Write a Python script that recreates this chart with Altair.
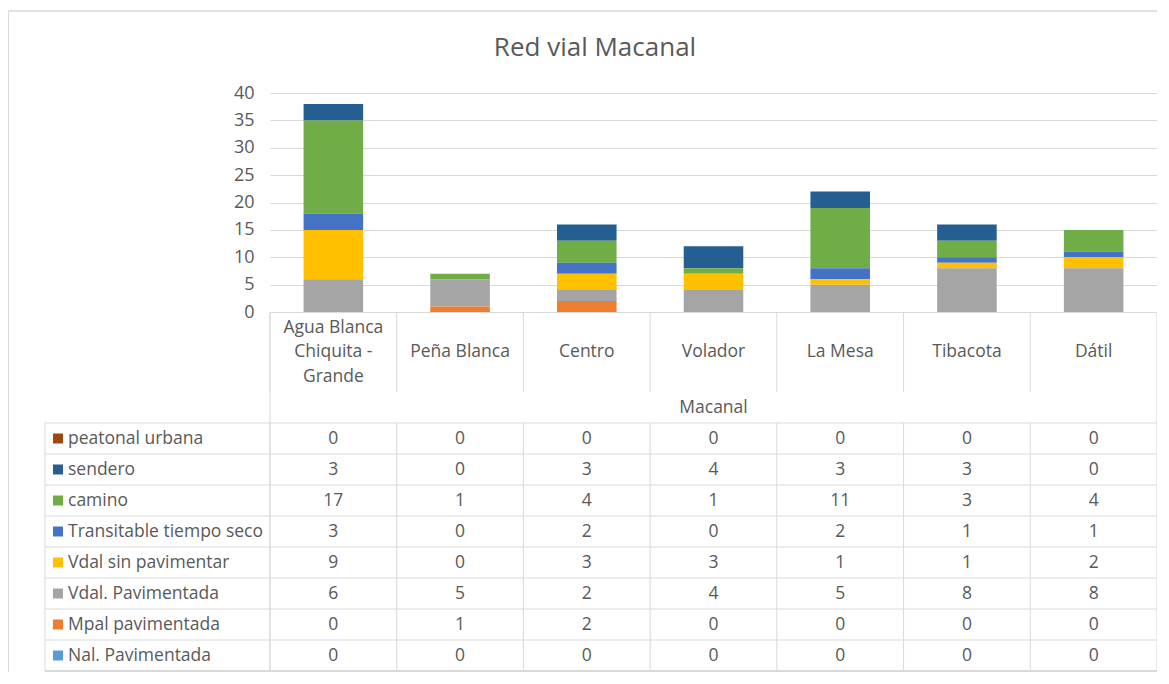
import altair as alt
import pandas as pd

categories = ["Agua Blanca Chiquita - Grande", "Peña Blanca", "Centro", "Volador", "La Mesa", "Tibacota", "Dátil"]
cat_labels = ["Agua Blanca\nChiquita -\nGrande", "Peña Blanca", "Centro", "Volador", "La Mesa", "Tibacota", "Dátil"]

# table order (top to bottom)
series = ["peatonal urbana", "sendero", "camino", "Transitable tiempo seco",
          "Vdal sin pavimentar", "Vdal. Pavimentada", "Mpal pavimentada", "Nal. Pavimentada"]
colors = ["#9E480E", "#255E91", "#70AD47", "#4472C4", "#FFC000", "#A5A5A5", "#ED7D31", "#5B9BD5"]

peatonal_urbana = [0, 0, 0, 0, 0, 0, 0]
sendero = [3, 0, 3, 4, 3, 3, 0]
camino = [17, 1, 4, 1, 11, 3, 4]
transitable = [3, 0, 2, 0, 2, 1, 1]
vdal_sin = [9, 0, 3, 3, 1, 1, 2]
vdal_pav = [6, 5, 2, 4, 5, 8, 8]
mpal_pav = [0, 1, 2, 0, 0, 0, 0]
nal_pav = [0, 0, 0, 0, 0, 0, 0]

values = [peatonal_urbana, sendero, camino, transitable, vdal_sin, vdal_pav, mpal_pav, nal_pav]
y_ticks = [0, 5, 10, 15, 20, 25, 30, 35, 40]

rows = []
for si, (s, vals) in enumerate(zip(series, values)):
    for c, v in zip(categories, vals):
        rows.append({"category": c, "series": s, "value": v, "stack": len(series) - si})
df = pd.DataFrame(rows)
cat_df = pd.DataFrame({"category": categories, "label": cat_labels,
                       "lines": [lbl.count("\n") + 1 for lbl in cat_labels]})
ser_df = pd.DataFrame({"series": series})

W, H = 887, 219
ROW_TOP, ROW_H = 330, 31
ROW_BOT = ROW_TOP + ROW_H * len(series)
FONT = "Open Sans"
GREY = "#595959"
LINE = "#d9d9d9"
FS = 17.5

xs = alt.Scale(domain=categories, paddingInner=0, paddingOuter=0)
X = alt.X("category:N", sort=categories, scale=xs, axis=None)
rs = alt.Scale(domain=series, range=[ROW_TOP, ROW_BOT], paddingInner=0, paddingOuter=0)
cs = alt.Scale(domain=series, range=colors)

bars = alt.Chart(df).mark_bar(width=alt.RelativeBandSize(0.47)).encode(
    x=X,
    y=alt.Y("value:Q", stack="zero", scale=alt.Scale(domain=[0, 40]),
            axis=alt.Axis(values=y_ticks, grid=True, gridColor=LINE, domain=False, ticks=False,
                          tickSize=0, labelPadding=16, labelFontSize=18, labelColor=GREY,
                          labelFont=FONT, title=None)),
    color=alt.Color("series:N", scale=cs, legend=None),
    order=alt.Order("stack:Q"),
)

cell_text = alt.Chart(df).mark_text(font=FONT, fontSize=FS, color=GREY).encode(
    x=X,
    y=alt.Y("series:N", scale=rs, axis=None),
    text="value:Q",
)

row_lines = alt.Chart(ser_df).mark_rule(color=LINE).encode(
    y=alt.Y("series:N", scale=rs, axis=None, bandPosition=0),
    x=alt.value(-225), x2=alt.value(W),
)
bottom_line = alt.Chart(ser_df).mark_rule(color=LINE).encode(
    y=alt.value(ROW_BOT), x=alt.value(-225), x2=alt.value(W),
)

ser_labels = alt.Chart(ser_df).mark_text(font=FONT, fontSize=FS, color=GREY, align="left").encode(
    y=alt.Y("series:N", scale=rs, axis=None),
    x=alt.value(-202),
    text="series:N",
)
ser_keys = alt.Chart(ser_df).mark_square(size=100, opacity=1).encode(
    y=alt.Y("series:N", scale=rs, axis=None),
    x=alt.value(-212),
    color=alt.Color("series:N", scale=cs, legend=None),
)

vlines_top = alt.Chart(cat_df).mark_rule(color=LINE).encode(
    x=alt.X("category:N", sort=categories, scale=xs, axis=None, bandPosition=0),
    y=alt.value(H), y2=alt.value(299),
)
vlines_bot = alt.Chart(cat_df).mark_rule(color=LINE).encode(
    x=alt.X("category:N", sort=categories, scale=xs, axis=None, bandPosition=0),
    y=alt.value(ROW_TOP), y2=alt.value(ROW_BOT),
)
edges = alt.Chart(cat_df.head(1)).mark_rule(color=LINE).encode(
    x=alt.value(0), y=alt.value(H), y2=alt.value(ROW_BOT)
)
edge_r = alt.Chart(cat_df.head(1)).mark_rule(color=LINE).encode(
    x=alt.value(W), y=alt.value(H), y2=alt.value(ROW_BOT)
)
edge_l = alt.Chart(cat_df.head(1)).mark_rule(color=LINE).encode(
    x=alt.value(-225), y=alt.value(ROW_TOP), y2=alt.value(ROW_BOT)
)

cat_text_1 = alt.Chart(cat_df).transform_filter("datum.lines == 1").mark_text(
    font=FONT, fontSize=FS, color=GREY, baseline="middle").encode(
    x=X, y=alt.value(259), text="label:N",
)
cat_text_3 = alt.Chart(cat_df).transform_filter("datum.lines == 3").mark_text(
    font=FONT, fontSize=FS, color=GREY, lineBreak="\n", lineHeight=24.5, baseline="middle").encode(
    x=X, y=alt.value(259 - 24.5), text="label:N",
)
group_text = alt.Chart(cat_df.head(1)).mark_text(font=FONT, fontSize=FS, color=GREY).encode(
    x=alt.value(W / 2), y=alt.value(315), text=alt.value("Macanal"),
)
title_text = alt.Chart(cat_df.head(1)).mark_text(font=FONT, fontSize=26, color=GREY).encode(
    x=alt.value(325), y=alt.value(-45), text=alt.value("Red vial Macanal"),
)
border_top = alt.Chart(cat_df.head(1)).mark_rule(color=LINE, strokeWidth=1.5).encode(
    x=alt.value(-262), x2=alt.value(W + 4), y=alt.value(-82),
)
border_left = alt.Chart(cat_df.head(1)).mark_rule(color=LINE, strokeWidth=2).encode(
    x=alt.value(-262), y=alt.value(-82), y2=alt.value(ROW_BOT + 5),
)

chart = alt.layer(
    border_top, border_left, bars, row_lines, bottom_line, vlines_top, vlines_bot, edges, edge_r, edge_l,
    cell_text, ser_labels, ser_keys, cat_text_1, cat_text_3, group_text, title_text,
).resolve_scale(y="independent").properties(
    width=W, height=H, autosize="none",
    padding={"left": 262, "top": 85, "right": 0, "bottom": 360},
).configure_view(stroke=None)

chart.save("out.html", embed_options={"renderer": "svg", "actions": False})
